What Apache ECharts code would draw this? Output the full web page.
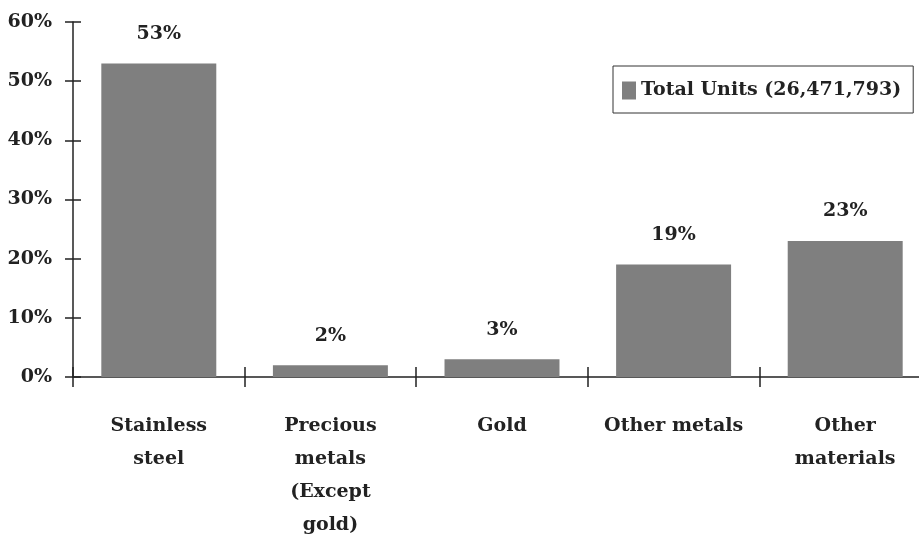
<!DOCTYPE html>
<html>
<head>
<meta charset="utf-8">
<script src="https://cdn.jsdelivr.net/npm/echarts@6/dist/echarts.min.js"></script>
<style>
  html, body { margin: 0; padding: 0; background: #fff; }
  #chart { width: 919px; height: 560px; }
</style>
</head>
<body>
<div id="chart"></div>
<script>
const categories = ["Stainless\nsteel", "Precious\nmetals\n(Except\ngold)", "Gold", "Other metals", "Other\nmaterials"];
const shares = [53, 2, 3, 19, 23];
const seriesName = "Total Units (26,471,793)";
const yTicks = [0, 10, 20, 30, 40, 50, 60];

const font = "DejaVu Serif";
const ink = "#222";

const chart = echarts.init(document.getElementById("chart"));

const yBase = {
  type: "value",
  min: yTicks[0],
  max: yTicks[yTicks.length - 1],
  interval: 10,
  splitLine: { show: false },
};

chart.setOption({
  animation: false,
  textStyle: { fontFamily: font },
  grid: { left: 73, width: 858, top: 22, bottom: 183, containLabel: false, outerBoundsMode: "none" },
  legend: {
    left: 613,
    top: 66,
    padding: [15, 12, 13, 9],
    borderColor: "#333",
    borderWidth: 1,
    itemWidth: 14,
    itemHeight: 18,
    itemGap: 0,
    icon: "rect",
    textStyle: { fontFamily: font, fontWeight: "bold", fontSize: 19, color: ink },
    data: [seriesName],
  },
  xAxis: [
    {
      type: "category",
      data: categories,
      axisLine: { lineStyle: { color: ink, width: 1.5 } },
      axisTick: { show: true, interval: 0, length: 10, lineStyle: { color: ink, width: 1.5 } },
      axisLabel: {
        interval: 0,
        margin: 33,
        fontFamily: font,
        fontWeight: "bold",
        fontSize: 19,
        lineHeight: 33,
        color: ink,
        verticalAlign: "top",
      },
    },
    {
      type: "category",
      data: categories,
      position: "bottom",
      axisLine: { show: false },
      axisTick: { show: true, interval: 0, inside: true, length: 10, lineStyle: { color: ink, width: 1.5 } },
      axisLabel: { show: false },
    },
  ],
  yAxis: [
    Object.assign({}, yBase, {
      axisLine: { show: true, lineStyle: { color: ink, width: 1.5 } },
      axisTick: { show: true, length: 8, lineStyle: { color: ink, width: 1.5 } },
      axisLabel: {
        margin: 21,
        fontFamily: font,
        fontWeight: "bold",
        fontSize: 19,
        color: ink,
        formatter: "{value}%",
      },
    }),
    Object.assign({}, yBase, {
      position: "left",
      axisLine: { show: false },
      axisTick: { show: true, inside: true, length: 8, lineStyle: { color: ink, width: 1.5 } },
      axisLabel: { show: false },
    }),
  ],
  series: [
    {
      name: seriesName,
      type: "bar",
      data: shares,
      barCategoryGap: "33%",
      itemStyle: { color: "#7f7f7f" },
      label: {
        show: true,
        position: "top",
        distance: 20,
        fontFamily: font,
        fontWeight: "bold",
        fontSize: 19,
        color: ink,
        formatter: "{c}%",
      },
    },
  ],
});
</script>
</body>
</html>
